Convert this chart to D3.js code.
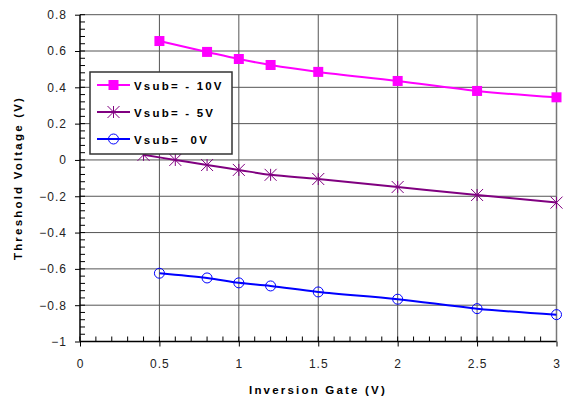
<!DOCTYPE html>
<html>
<head>
<meta charset="utf-8">
<script src="https://cdn.jsdelivr.net/npm/d3@7"></script>
<style>
  body { margin: 0; background: #fff; }
  text { font-family: Arial, "Liberation Sans", sans-serif; }
</style>
</head>
<body>
<div class="container"></div>
<script>
const wd = 570
const ht = 403

// data
const xs10 = [0.5, 0.8, 1.0, 1.2, 1.5, 2, 2.5, 3]
const vsubMinus10 = [0.655, 0.595, 0.556, 0.523, 0.485, 0.435, 0.38, 0.345]

const xs5 = [0.4, 0.6, 0.8, 1.0, 1.2, 1.5, 2, 2.5, 3]
const vsubMinus5 = [0.028, 0.0, -0.028, -0.055, -0.082, -0.105, -0.149, -0.193, -0.235]

const xs0 = [0.5, 0.8, 1.0, 1.2, 1.5, 2, 2.5, 3]
const vsub0 = [-0.624, -0.65, -0.677, -0.694, -0.727, -0.767, -0.819, -0.852]

const seriesNames = ["Vsub= - 10V", "Vsub= - 5V", "Vsub=  0V"]
const xTicks = [0, 0.5, 1, 1.5, 2, 2.5, 3]
const yTicks = [-1, -0.8, -0.6, -0.4, -0.2, 0, 0.2, 0.4, 0.6, 0.8]

const series = [
  {name: seriesNames[0], xs: xs10, ys: vsubMinus10, col: "#ff00ff", mark: "square"},
  {name: seriesNames[1], xs: xs5, ys: vsubMinus5, col: "#800080", mark: "star"},
  {name: seriesNames[2], xs: xs0, ys: vsub0, col: "#0000ff", mark: "circle"}
]

const pLeft = 80, pRight = 556.5, pTop = 14.7, pBottom = 341.5

const x = d3.scaleLinear().domain([0, 3]).range([pLeft, pRight])
const y = d3.scaleLinear().domain([-1, 0.8]).range([pBottom, pTop])

const svg = d3.select(".container").append("svg")
  .attr("width", wd)
  .attr("height", ht)

// grid
const grid = svg.append("g")
grid.selectAll(".hg").data(yTicks.filter(d => d > -1))
  .enter().append("line")
  .attr("x1", pLeft).attr("x2", pRight)
  .attr("y1", d => y(d)).attr("y2", d => y(d))
  .style("stroke", "#555").style("stroke-width", 1)
grid.selectAll(".vg").data(xTicks.filter(d => d > 0))
  .enter().append("line")
  .attr("y1", pTop).attr("y2", pBottom)
  .attr("x1", d => x(d)).attr("x2", d => x(d))
  .style("stroke", "#555").style("stroke-width", 1)

// axes
const xAxis = d3.axisBottom(x).tickValues(xTicks).tickSize(5).tickFormat(d3.format("~g"))
const yAxis = d3.axisLeft(y).tickValues(yTicks).tickSize(5).tickFormat(d3.format("~g"))

const gx = svg.append("g").attr("transform", "translate(0," + pBottom + ")").call(xAxis)
const gy = svg.append("g").attr("transform", "translate(" + pLeft + ",0)").call(yAxis)

;[gx, gy].forEach(g => {
  g.select(".domain").remove()
  g.selectAll("line").style("stroke", "#000")
  g.selectAll("text").style("font-size", "12px").style("fill", "#222").style("letter-spacing", "1px")
    .style("font-family", "Arial, 'Liberation Sans', sans-serif")
})
gx.selectAll("text").attr("dy", "0").attr("y", 26)
gy.selectAll("text").attr("x", -13)

// minor ticks, pointing inside
const minorX = d3.range(0, 3.001, 0.1).map(d => +d.toFixed(2))
const minorY = d3.range(-1, 0.801, 0.04).map(d => +d.toFixed(2))
svg.append("g").selectAll("line").data(minorX).enter().append("line")
  .attr("x1", d => x(d)).attr("x2", d => x(d))
  .attr("y1", pBottom).attr("y2", pBottom - 5)
  .style("stroke", "#000")
svg.append("g").selectAll("line").data(minorY).enter().append("line")
  .attr("x1", pLeft).attr("x2", pLeft + 5)
  .attr("y1", d => y(d)).attr("y2", d => y(d))
  .style("stroke", "#000")

svg.append("line").attr("x1", pLeft).attr("x2", pRight).attr("y1", pBottom).attr("y2", pBottom)
  .style("stroke", "#000").style("stroke-width", 1.5)
svg.append("line").attr("x1", pLeft).attr("x2", pLeft).attr("y1", pTop).attr("y2", pBottom)
  .style("stroke", "#000").style("stroke-width", 1.5)
svg.append("line").attr("x1", pRight).attr("x2", pRight).attr("y1", pTop).attr("y2", pBottom)
  .style("stroke", "#777").style("stroke-width", 1.5)

// lines
const lineFunc = d3.line()
  .x(d => x(d[0]))
  .y(d => y(d[1]))
  .curve(d3.curveCatmullRom)

function drawMark(g, type, col, cx, cy) {
  if (type == "square") {
    g.append("rect").attr("x", cx - 5).attr("y", cy - 5).attr("width", 10).attr("height", 10)
      .attr("fill", col)
  } else if (type == "circle") {
    g.append("circle").attr("cx", cx).attr("cy", cy).attr("r", 5)
      .attr("fill", "none").style("stroke", col).style("stroke-width", 1)
  } else {
    const s = 6
    const p = "M" + (cx - s) + "," + (cy - s) + "L" + (cx + s) + "," + (cy + s) +
      "M" + (cx - s) + "," + (cy + s) + "L" + (cx + s) + "," + (cy - s) +
      "M" + cx + "," + (cy - s) + "L" + cx + "," + (cy + s)
    g.append("path").attr("d", p).style("stroke", col).style("stroke-width", 1).attr("fill", "none")
  }
}

series.forEach(s => {
  const pts = s.xs.map((v, i) => [v, s.ys[i]])
  svg.append("path")
    .attr("d", lineFunc(pts))
    .attr("fill", "none")
    .style("stroke", s.col)
    .style("stroke-width", 2)
  const mg = svg.append("g")
  pts.forEach(p => drawMark(mg, s.mark, s.col, x(p[0]), y(p[1])))
})

// legend
const lg = svg.append("g")
lg.append("rect").attr("x", 90).attr("y", 72).attr("width", 142).attr("height", 82)
  .attr("fill", "#fff").style("stroke", "#333").style("stroke-width", 1.5)
series.forEach((s, i) => {
  const ly = 85 + i * 27
  lg.append("line").attr("x1", 97).attr("x2", 130).attr("y1", ly).attr("y2", ly)
    .style("stroke", s.col).style("stroke-width", 2)
  drawMark(lg, s.mark, s.col, 113.5, ly)
  lg.append("text").attr("x", 134).attr("y", ly + 4.5)
    .text(s.name)
    .style("font-size", "11.5px").style("font-weight", "bold")
    .style("letter-spacing", "2.2px").style("white-space", "pre")
})

// axis titles
svg.append("text").attr("x", 318).attr("y", 394).attr("text-anchor", "middle")
  .text("Inversion Gate (V)")
  .style("font-size", "11.5px").style("font-weight", "bold").style("letter-spacing", "2.2px")
svg.append("text").attr("transform", "translate(22,178) rotate(-90)").attr("text-anchor", "middle")
  .text("Threshold Voltage (V)")
  .style("font-size", "11.5px").style("font-weight", "bold").style("letter-spacing", "2.2px")
</script>
</body>
</html>
